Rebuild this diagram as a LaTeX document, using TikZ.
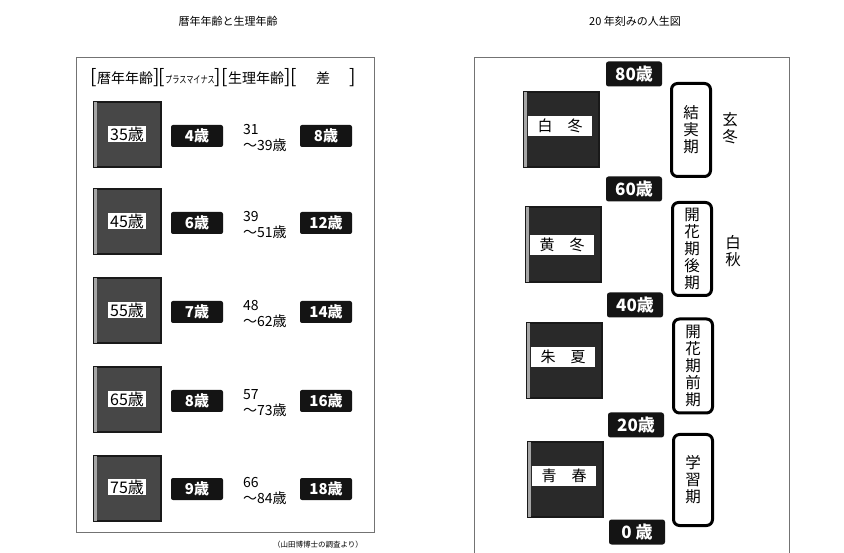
\documentclass[tikz,border=0pt]{standalone}
\usepackage{fontspec}
\setmainfont{Noto Sans CJK JP}
\begin{document}
\begin{tikzpicture}[x=1pt,y=-1pt,
  frame/.style={draw=black!55, line width=1pt},
  numbox/.style={fill=black!92, text=white, rounded corners=2pt, minimum width=52pt, minimum height=22pt, inner sep=0pt, font=\bfseries\fontsize{15}{15}\selectfont},
  tagbox/.style={fill=black!92, text=white, rounded corners=2.5pt, minimum width=56pt, minimum height=25pt, inner sep=0pt, font=\bfseries\fontsize{17}{17}\selectfont},
  darksq/.style={fill=black!72, draw=black!90, line width=2pt, inner sep=0pt},
  darksqR/.style={darksq, fill=black!84},
  bevel/.style={fill=black!35},
  sqlabel/.style={fill=white, inner xsep=2pt, inner ysep=1pt, text=black, font=\fontsize{16}{16}\selectfont},
  seasonlabel/.style={fill=white, inner sep=0pt, minimum width=64pt, minimum height=20pt, text=black, font=\fontsize{15}{15}\selectfont},
  phase/.style={draw=black, line width=3pt, rounded corners=6pt, fill=white, minimum width=39pt, inner sep=0pt, align=center, font=\fontsize{15.5}{17}\selectfont},
  sidelabel/.style={align=center, inner sep=0pt, font=\fontsize{15.5}{17}\selectfont},
  titletext/.style={inner sep=0pt, font=\fontsize{11}{11}\selectfont},
  headtext/.style={inner sep=0pt, font=\fontsize{14}{14}\selectfont},
  rangetext/.style={anchor=west, align=left, inner sep=0pt, font=\fontsize{14}{16}\selectfont}
]
\useasboundingbox (0,0) rectangle (844,553);
\clip (0,0) rectangle (844,553);
\fill[white] (0,0) rectangle (844,553);

% ---------- left panel ----------
\node[titletext] (ltitle) at (228,21) {暦年年齢と生理年齢};
\draw[frame] (76,58) rectangle (374,532);

\node[headtext] (h1) at (125,78) {{\fontsize{19}{19}\selectfont[}暦年年齢{\fontsize{19}{19}\selectfont]}};
\node[headtext] (h2) at (190,78) {{\fontsize{19}{19}\selectfont[}\scalebox{0.72}[1]{\fontsize{10}{10}\selectfont プラスマイナス}{\fontsize{19}{19}\selectfont]}};
\node[headtext] (h3) at (256,78) {{\fontsize{19}{19}\selectfont[}生理年齢{\fontsize{19}{19}\selectfont]}};
\node[headtext] (h4) at (323,78) {{\fontsize{19}{19}\selectfont[}\hspace{19pt}差\hspace{19pt}{\fontsize{19}{19}\selectfont]}};

\foreach \vyy/\vcal/\vpm/\vlo/\vhi/\vdf [count=\i] in
  {135/35/4/31/39/8, 222/45/6/39/51/12, 311/55/7/48/62/14, 400/65/8/57/73/16, 488/75/9/66/84/18} {
  \node[darksq, minimum width=67pt, minimum height=65pt] (sq\i) at (127.5,\vyy) {};
  \fill[bevel] ([xshift=1pt,yshift=-1pt]sq\i.north west) rectangle ([xshift=4pt,yshift=1pt]sq\i.south west);
  \node[sqlabel] (cal\i) at (127,{\vyy-1}) {\vcal 歳};
  \node[numbox] (pm\i) at (197,{\vyy+1}) {\vpm 歳};
  \node[rangetext] (rng\i) at (243,{\vyy+3}) {\vlo\\～\vhi 歳};
  \node[numbox] (df\i) at (326,{\vyy+1}) {\vdf 歳};
}
\node[inner sep=0pt, font=\fontsize{7.5}{7.5}\selectfont] (note) at (318,545) {（山田博博士の調査より）};

% ---------- right panel ----------
\node[titletext] (rtitle) at (635,21) {20 年刻みの人生図};
\draw[frame] (474,600) -- (474,58) -- (789,58) -- (789,600);

\node[tagbox] (t80) at (634,74) {80歳};
\node[tagbox] (t60) at (634,189) {60歳};
\node[tagbox] (t40) at (635,305) {40歳};
\node[tagbox] (t20) at (636,425) {20歳};
\node[tagbox] (t0) at (637,532) {0 歳};

\foreach \sx/\sy/\ly/\ta/\tb [count=\j] in
  {561/130/126/白/冬, 563/245/245/黄/冬, 564/361/357/朱/夏, 565/479/476/青/春} {
  \node[darksqR, minimum size=75pt] (s\j) at (\sx,\sy) {};
  \fill[bevel] ([xshift=1pt,yshift=-1pt]s\j.north west) rectangle ([xshift=4pt,yshift=1pt]s\j.south west);
  \node[seasonlabel] (l\j) at ({\sx-1},\ly) {\ta\hspace{15pt}\tb};
}

\node[phase, minimum height=93pt] (p1) at (691,130) {結\\実\\期};
\node[phase, minimum height=93pt] (p2) at (692,249) {開\\花\\期\\後\\期};
\node[phase, minimum height=94pt] (p3) at (693,366) {開\\花\\期\\前\\期};
\node[phase, minimum height=91pt] (p4) at (693,480) {学\\習\\期};

\node[sidelabel] (g1) at (730,128) {玄\\冬};
\node[sidelabel] (g2) at (733,251) {白\\秋};
\end{tikzpicture}
\end{document}
